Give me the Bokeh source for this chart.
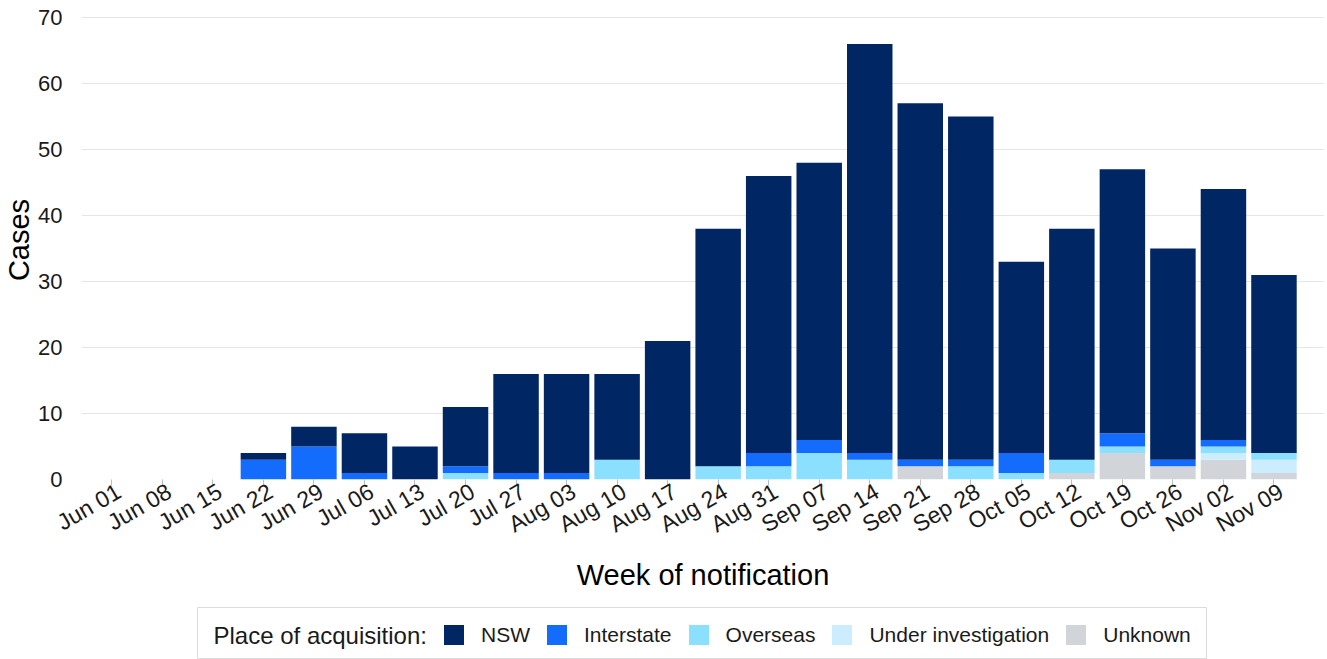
import math
from bokeh.plotting import figure
from bokeh.layouts import column, row
from bokeh.models import (ColumnDataSource, Range1d, FixedTicker, Legend, LegendItem,
                          Label, Spacer, LinearAxis)
from bokeh.embed import file_html
from bokeh.resources import INLINE

weeks = ["Jun 01", "Jun 08", "Jun 15", "Jun 22", "Jun 29", "Jul 06", "Jul 13", "Jul 20",
         "Jul 27", "Aug 03", "Aug 10", "Aug 17", "Aug 24", "Aug 31", "Sep 07", "Sep 14",
         "Sep 21", "Sep 28", "Oct 05", "Oct 12", "Oct 19", "Oct 26", "Nov 02", "Nov 09"]
nsw = [0, 0, 0, 1, 3, 6, 5, 9, 15, 15, 13, 21, 36, 42, 42, 62, 54, 52, 29, 35, 40, 32, 38, 27]
interstate = [0, 0, 0, 3, 5, 1, 0, 1, 1, 1, 0, 0, 0, 2, 2, 1, 1, 1, 3, 0, 2, 1, 1, 0]
overseas = [0, 0, 0, 0, 0, 0, 0, 1, 0, 0, 3, 0, 2, 2, 4, 3, 0, 2, 1, 2, 1, 0, 1, 1]
under_investigation = [0, 0, 0, 0, 0, 0, 0, 0, 0, 0, 0, 0, 0, 0, 0, 0, 0, 0, 0, 0, 0, 0, 1, 2]
unknown = [0, 0, 0, 0, 0, 0, 0, 0, 0, 0, 0, 0, 0, 0, 0, 0, 2, 0, 0, 1, 4, 2, 3, 1]

series_names = ["NSW", "Interstate", "Overseas", "Under investigation", "Unknown"]
series_colors = ["#002664", "#146CFD", "#8CE0FF", "#CBEDFD", "#D1D5DA"]
y_ticks = [0, 10, 20, 30, 40, 50, 60, 70]
legend_title = "Place of acquisition:"

FONT = "Liberation Sans"
TXT = "#1a1a1a"

x = list(range(len(weeks)))
src = ColumnDataSource(dict(x=x, NSW=nsw, Interstate=interstate, Overseas=overseas,
                            **{"Under investigation": under_investigation}, Unknown=unknown))

X0, X1 = -0.6, 24.0
LABEL_SHIFT = 0.14  # rotated labels hang slightly right of their tick (hjust = 1)

p = figure(width=1327, height=607, x_range=Range1d(X0, X1), y_range=Range1d(0, 72.58),
           output_backend="svg", toolbar_location=None,
           min_border_left=80, min_border_right=3, min_border_top=0, min_border_bottom=128)
p.outline_line_color = None
p.background_fill_color = "white"

# stack from bottom: Unknown, Under investigation, Overseas, Interstate, NSW
stack_order = series_names[::-1]
stack_colors = series_colors[::-1]
p.vbar_stack(stack_order, x="x", width=0.9, fill_color=stack_colors,
             line_color=None, source=src)

p.xgrid.visible = False
p.ygrid.grid_line_color = "#e6e6e6"
p.ygrid.grid_line_width = 1

p.yaxis.ticker = FixedTicker(ticks=y_ticks)
p.yaxis.axis_line_color = None
p.yaxis.major_tick_line_color = None
p.yaxis.minor_tick_line_color = None
p.yaxis.major_label_text_font = FONT
p.yaxis.major_label_text_font_size = "22px"
p.yaxis.major_label_text_color = TXT
p.yaxis.major_label_standoff = 13
p.yaxis.axis_label = "Cases"
p.yaxis.axis_label_text_font = FONT
p.yaxis.axis_label_text_font_size = "29px"
p.yaxis.axis_label_text_font_style = "normal"
p.yaxis.axis_label_text_color = "black"
p.yaxis.axis_label_standoff = 0

# tick marks only
xa = p.xaxis[0]
xa.ticker = FixedTicker(ticks=x)
xa.major_label_overrides = {i: "" for i in x}
xa.major_label_text_font_size = "1px"
xa.major_label_standoff = 0
xa.axis_line_color = None
xa.major_tick_line_color = "#bdbdbd"
xa.major_tick_out = 6
xa.major_tick_in = 0
xa.minor_tick_line_color = None

# tick labels + axis title
p.extra_x_ranges["labels"] = Range1d(X0 - LABEL_SHIFT, X1 - LABEL_SHIFT)
xl = LinearAxis(x_range_name="labels", ticker=FixedTicker(ticks=x))
xl.major_label_overrides = {i: w for i, w in zip(x, weeks)}
xl.major_label_orientation = math.pi / 6
xl.axis_line_color = None
xl.major_tick_line_color = None
xl.major_tick_out = 0
xl.major_tick_in = 0
xl.minor_tick_line_color = None
xl.major_label_text_font = FONT
xl.major_label_text_font_size = "23px"
xl.major_label_text_color = TXT
xl.major_label_standoff = 4
xl.axis_label = "Week of notification"
xl.axis_label_text_font = FONT
xl.axis_label_text_font_size = "29px"
xl.axis_label_text_font_style = "normal"
xl.axis_label_text_color = "black"
xl.axis_label_standoff = 8
p.add_layout(xl, "below")

# legend panel (its swatch renderers use the same data, out of this panel's view)
lf = figure(width=1010, height=52, x_range=Range1d(-30, -29), y_range=Range1d(-30, -29),
            output_backend="svg", toolbar_location=None,
            x_axis_location=None, y_axis_location=None, min_border=0)
lf.grid.visible = False
lf.outline_line_color = "#dcdcdc"
lf.outline_line_width = 1
swatches = lf.vbar_stack(stack_order, x="x", width=0.9, fill_color=stack_colors,
                         line_color=None, source=src)
smap = dict(zip(stack_order, swatches))
items = [LegendItem(label=name, renderers=[smap[name]]) for name in series_names]
legend = Legend(items=items, orientation="horizontal", location=(244, 12))
legend.label_text_font = FONT
legend.label_text_font_size = "21px"
legend.label_text_color = TXT
legend.label_height = 24
legend.glyph_width = 25
legend.glyph_height = 25
legend.label_standoff = 15
legend.spacing = 14
legend.padding = 0
legend.margin = 0
legend.border_line_color = None
legend.background_fill_alpha = 0
lf.add_layout(legend)
lf.add_layout(Label(x=16, y=24, x_units="screen", y_units="screen", text=legend_title,
                    text_font=FONT, text_font_size="24px", text_color=TXT,
                    text_baseline="middle", text_align="left"))

layout = column(p, row(Spacer(width=197, height=52), lf))
open("out.html", "w").write(file_html(layout, INLINE))
